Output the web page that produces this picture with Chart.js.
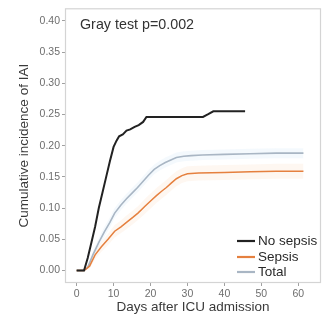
<!DOCTYPE html>
<html>
<head>
<meta charset="utf-8">
<script src="https://cdn.jsdelivr.net/npm/chart.js@4/dist/chart.umd.min.js"></script>
<style>
  html, body { margin: 0; padding: 0; background: #fff; }
  #wrap { width: 336px; height: 320px; position: relative; }
</style>
</head>
<body>
<div id="wrap"><canvas id="c" width="336" height="320"></canvas></div>
<script>
const xTicks = [0, 10, 20, 30, 40, 50, 60];
const yTicks = [0, 0.05, 0.10, 0.15, 0.20, 0.25, 0.30, 0.35, 0.40];
const seriesNames = ["No sepsis", "Sepsis", "Total"];
const annotationText = "Gray test p=0.002";
const xTitle = "Days after ICU admission";
const yTitle = "Cumulative incidence of IAI";

const noSepsisDays = [0, 2, 3, 4, 5, 6, 7, 8, 9, 10, 10.8, 11.5, 12.5, 13.5, 14.5, 15.7, 16.8, 18, 18.9, 34.2, 35.5, 37, 45.6];
const noSepsisVals = [0, 0, 0.02, 0.045, 0.07, 0.1, 0.125, 0.15, 0.175, 0.198, 0.208, 0.215, 0.218, 0.224, 0.226, 0.23, 0.233, 0.238, 0.246, 0.246, 0.25, 0.255, 0.255];

const sepsisDays = [0, 2, 3.5, 5, 6.7, 8.5, 10.3, 12, 13.5, 15.2, 16.6, 18.5, 20.3, 21.6, 23, 24.3, 25.6, 27, 28.5, 30, 33, 40, 47, 54, 61.4];
const sepsisVals = [0, 0, 0.007, 0.025, 0.038, 0.05, 0.063, 0.07, 0.077, 0.085, 0.092, 0.103, 0.113, 0.12, 0.127, 0.133, 0.14, 0.147, 0.152, 0.155, 0.156, 0.157, 0.158, 0.159, 0.159];
const sepsisLow  = [0, 0, 0.003, 0.018, 0.030, 0.041, 0.053, 0.060, 0.066, 0.074, 0.081, 0.091, 0.101, 0.108, 0.115, 0.121, 0.128, 0.135, 0.140, 0.143, 0.144, 0.145, 0.146, 0.147, 0.147];
const sepsisHigh = [0, 0, 0.011, 0.032, 0.046, 0.059, 0.073, 0.080, 0.088, 0.096, 0.103, 0.115, 0.125, 0.132, 0.139, 0.145, 0.152, 0.159, 0.164, 0.167, 0.168, 0.169, 0.170, 0.171, 0.171];

const totalDays = [0, 2, 3, 4.4, 6, 7.5, 9, 10.3, 12, 13.5, 15, 16.5, 18, 19.5, 21, 22.5, 24, 25.5, 27, 29, 31, 34, 40, 47, 54, 61.4];
const totalVals = [0, 0, 0.005, 0.025, 0.045, 0.062, 0.077, 0.092, 0.105, 0.115, 0.124, 0.133, 0.143, 0.153, 0.162, 0.168, 0.173, 0.177, 0.181, 0.183, 0.184, 0.185, 0.186, 0.187, 0.188, 0.188];
const totalLow  = [0, 0, 0.002, 0.019, 0.038, 0.054, 0.069, 0.084, 0.097, 0.107, 0.116, 0.125, 0.135, 0.145, 0.154, 0.160, 0.165, 0.169, 0.173, 0.175, 0.176, 0.177, 0.178, 0.179, 0.180, 0.180];
const totalHigh = [0, 0, 0.008, 0.031, 0.052, 0.070, 0.085, 0.100, 0.113, 0.123, 0.132, 0.141, 0.151, 0.161, 0.170, 0.176, 0.181, 0.185, 0.189, 0.191, 0.192, 0.193, 0.194, 0.195, 0.196, 0.196];

const colors = { noSepsis: '#222222', sepsis: '#e5803f', total: '#a9b6c4' };

function pts(xs, ys) { return xs.map((x, i) => ({ x: x, y: ys[i] })); }

const FONT = "'Liberation Sans', Arial, sans-serif";

const boxAndText = {
  id: 'boxAndText',
  afterDraw(chart) {
    const ctx = chart.ctx;
    const a = chart.chartArea;
    ctx.save();
    ctx.strokeStyle = '#d4d4d4';
    ctx.lineWidth = 1.2;
    ctx.strokeRect(a.left + 0.5, a.top + 0.5, a.right - a.left - 1, a.bottom - a.top - 1);
    ctx.fillStyle = '#333';
    ctx.font = '14.3px ' + FONT;
    ctx.textBaseline = 'middle';
    ctx.textAlign = 'left';
    ctx.fillText(annotationText, 80, 25);
    const items = [
      [seriesNames[0], colors.noSepsis, 241],
      [seriesNames[1], colors.sepsis, 257],
      [seriesNames[2], colors.total, 272]
    ];
    ctx.font = '13.5px ' + FONT;
    items.forEach(([t, c, y]) => {
      ctx.strokeStyle = c;
      ctx.lineWidth = 2.2;
      ctx.beginPath();
      ctx.moveTo(237, y);
      ctx.lineTo(255, y);
      ctx.stroke();
      ctx.fillStyle = '#2a2a2a';
      ctx.fillText(t, 258, y + 0.5);
    });
    ctx.restore();
  }
};

new Chart(document.getElementById('c'), {
  type: 'line',
  data: {
    datasets: [
      { label: seriesNames[0], data: pts(noSepsisDays, noSepsisVals), borderColor: colors.noSepsis, borderWidth: 2, pointRadius: 0, fill: false, order: 0 },
      { label: seriesNames[1], data: pts(sepsisDays, sepsisVals), borderColor: colors.sepsis, borderWidth: 1.5, pointRadius: 0, fill: false, order: 0 },
      { label: seriesNames[2], data: pts(totalDays, totalVals), borderColor: colors.total, borderWidth: 1.6, pointRadius: 0, fill: false, order: 0 },
      { label: 'sepsisLow', data: pts(sepsisDays, sepsisLow), borderWidth: 0, borderColor: 'rgba(0,0,0,0)', pointRadius: 0, fill: false, order: 2 },
      { label: 'sepsisHigh', data: pts(sepsisDays, sepsisHigh), borderWidth: 0, borderColor: 'rgba(0,0,0,0)', pointRadius: 0, fill: '-1', backgroundColor: 'rgba(250,205,170,0.16)', order: 2 },
      { label: 'totalLow', data: pts(totalDays, totalLow), borderWidth: 0, borderColor: 'rgba(0,0,0,0)', pointRadius: 0, fill: false, order: 1 },
      { label: 'totalHigh', data: pts(totalDays, totalHigh), borderWidth: 0, borderColor: 'rgba(0,0,0,0)', pointRadius: 0, fill: '-1', backgroundColor: 'rgba(185,215,240,0.16)', order: 1 }
    ]
  },
  options: {
    responsive: false,
    animation: false,
    devicePixelRatio: 1,
    layout: { padding: { left: 0, right: 15, top: 5, bottom: 0 } },
    plugins: { legend: { display: false }, tooltip: { enabled: false }, title: { display: false } },
    scales: {
      x: {
        type: 'linear',
        min: -3.15,
        max: 66.15,
        afterBuildTicks: (s) => { s.ticks = xTicks.map(v => ({ value: v })); },
        afterFit: (s) => { s.height = 37; },
        ticks: { color: '#6e6e6e', font: { size: 10.5, family: FONT }, padding: 2, maxRotation: 0, callback: (v) => String(v) },
        grid: { drawOnChartArea: false, drawTicks: true, tickLength: 3, color: '#a0a0a0' },
        border: { display: false },
        title: { display: true, text: xTitle, color: '#3a3a3a', font: { size: 13.5, family: FONT }, padding: { top: 0, bottom: 5 } }
      },
      y: {
        type: 'linear',
        min: -0.02,
        max: 0.42,
        afterBuildTicks: (s) => { s.ticks = yTicks.map(v => ({ value: v })); },
        afterFit: (s) => { s.width = 65; },
        ticks: { color: '#6e6e6e', font: { size: 10.5, family: FONT }, padding: 2, callback: (v) => Number(v).toFixed(2) },
        grid: { drawOnChartArea: false, drawTicks: true, tickLength: 3, color: '#a0a0a0' },
        border: { display: false },
        title: { display: true, text: yTitle, color: '#3a3a3a', font: { size: 13.5, family: FONT }, padding: { top: 16, bottom: 0 } }
      }
    }
  },
  plugins: [boxAndText]
});
</script>
</body>
</html>
